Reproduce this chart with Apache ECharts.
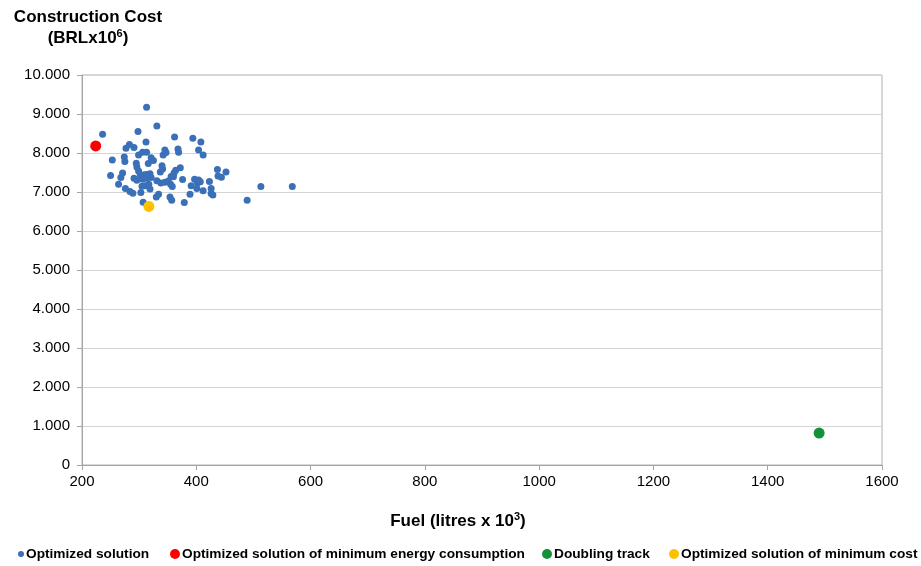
<!DOCTYPE html>
<html>
<head>
<meta charset="utf-8">
<script src="https://cdn.jsdelivr.net/npm/echarts@6/dist/echarts.min.js"></script>
<style>
  html, body { margin: 0; padding: 0; background: #fff; }
  #chart { width: 921px; height: 566px; }
</style>
</head>
<body>
<div id="chart"></div>
<script>
// Fuel consumption (litres x 10^3) and construction cost (BRL x 10^6)
const optimizedFuel = [
  313, 236, 298, 331, 362, 394, 408, 312, 283, 277, 291, 306, 299, 313, 321, 325,
  316, 295, 296, 299, 274, 275, 253, 345, 347, 342, 368, 369, 404, 412, 437, 372,
  340, 341, 337, 361, 364, 271, 268, 250, 291, 296, 302, 309, 314, 319, 321, 313,
  306, 331, 338, 345, 351, 356, 360, 355, 358, 376, 397, 404, 402, 407, 391, 401,
  412, 426, 429, 389, 379, 354, 357, 317, 311, 305, 319, 264, 276, 284, 289, 303,
  334, 330, 307, 438, 452, 444, 423, 513, 568, 426, 489
];
const optimizedCost = [
  9170, 8480, 8550, 8690, 8410, 8380, 8280, 8280, 8220, 8120, 8140, 8020, 7950, 8020, 7880, 7810,
  7730, 7740, 7640, 7540, 7900, 7780, 7820, 8080, 8010, 7950, 8100, 8020, 8080, 7950, 7580, 7620,
  7670, 7590, 7510, 7490, 7560, 7490, 7370, 7420, 7350, 7300, 7440, 7440, 7450, 7470, 7370, 7350,
  7330, 7290, 7230, 7250, 7280, 7400, 7390, 7200, 7140, 7320, 7330, 7310, 7230, 7260, 7160, 7090,
  7030, 7090, 6920, 6940, 6730, 6870, 6790, 7200, 7160, 7150, 7080, 7200, 7090, 7010, 6970, 6990,
  6940, 6870, 6740, 7410, 7510, 7380, 7270, 7140, 7140, 6960, 6790
];
const minEnergyFuel = [224];
const minEnergyCost = [8180];
const doublingFuel = [1490];
const doublingCost = [820];
const minCostFuel = [317];
const minCostCost = [6630];

const seriesNames = [
  'Optimized solution',
  'Optimized solution of minimum energy consumption',
  'Doubling track',
  'Optimized solution of minimum cost'
];
const seriesColors = ['#3A70B8', '#FF0000', '#139138', '#FFC000'];

const pairs = (xs, ys) => xs.map((x, i) => [x, ys[i]]);

const chart = echarts.init(document.getElementById('chart'), null, { renderer: 'canvas' });

const FONT = '"Liberation Sans", Arial, sans-serif';
const axisText = { color: '#000', fontFamily: FONT, fontSize: 15 };
const legendText = { color: '#000', fontFamily: FONT, fontSize: 13.7, fontWeight: 'bold', height: 16, lineHeight: 16 };

function legendFor(name, left, size) {
  return {
    data: [name],
    left: left,
    top: 546,
    icon: 'circle',
    itemWidth: size,
    itemHeight: size,
    itemGap: 0,
    padding: 0,
    textStyle: Object.assign({ padding: [0, 0, 0, -3] }, legendText)
  };
}

chart.setOption({
  animation: false,
  backgroundColor: '#fff',
  grid: {
    left: 82, right: 39, top: 75, bottom: 101,
    show: true, borderColor: '#b0b0b0', borderWidth: 1
  },
  xAxis: {
    type: 'value',
    min: 200, max: 1600, interval: 200,
    axisLine: { show: true, lineStyle: { color: '#a6a6a6' } },
    axisTick: { show: true, length: 5, lineStyle: { color: '#a6a6a6' } },
    axisLabel: Object.assign({ margin: 9, formatter: v => String(v) }, axisText),
    splitLine: { show: false }
  },
  yAxis: {
    type: 'value',
    min: 0, max: 10000, interval: 1000,
    axisLine: { show: true, lineStyle: { color: '#a6a6a6' } },
    axisTick: { show: true, length: 5, lineStyle: { color: '#a6a6a6' } },
    axisLabel: Object.assign({
      margin: 12,
      formatter: v => v === 0 ? '0' : (v / 1000).toFixed(3)
    }, axisText),
    splitLine: { show: true, lineStyle: { color: '#d4d4d4', width: 1 } }
  },
  legend: [
    legendFor(seriesNames[0], 18, 6),
    legendFor(seriesNames[1], 170, 10),
    legendFor(seriesNames[2], 542, 10),
    legendFor(seriesNames[3], 669, 10)
  ],
  graphic: [
    {
      type: 'text', x: 88, y: 17,
      style: { text: 'Construction Cost', fill: '#000', font: 'bold 17px ' + FONT, align: 'center', verticalAlign: 'middle' }
    },
    {
      type: 'text', x: 88, y: 38,
      style: {
        text: '{b|(BRLx10}{s|6}{b|)}',
        align: 'center', verticalAlign: 'middle',
        rich: {
          b: { fill: '#000', font: 'bold 17px ' + FONT },
          s: { fill: '#000', font: 'bold 11px ' + FONT, verticalAlign: 'top', padding: [0, 0, 8, 0] }
        }
      }
    },
    {
      type: 'text', x: 458, y: 521,
      style: {
        text: '{b|Fuel (litres x 10}{s|3}{b|)}',
        align: 'center', verticalAlign: 'middle',
        rich: {
          b: { fill: '#000', font: 'bold 17px ' + FONT },
          s: { fill: '#000', font: 'bold 11px ' + FONT, verticalAlign: 'top', padding: [0, 0, 8, 0] }
        }
      }
    }
  ],
  series: [
    {
      name: seriesNames[0], type: 'scatter', symbol: 'circle', symbolSize: 7,
      itemStyle: { color: seriesColors[0], opacity: 1 },
      data: pairs(optimizedFuel, optimizedCost), z: 2
    },
    {
      name: seriesNames[1], type: 'scatter', symbol: 'circle', symbolSize: 11,
      itemStyle: { color: seriesColors[1], opacity: 1 },
      data: pairs(minEnergyFuel, minEnergyCost), z: 3
    },
    {
      name: seriesNames[2], type: 'scatter', symbol: 'circle', symbolSize: 11,
      itemStyle: { color: seriesColors[2], opacity: 1 },
      data: pairs(doublingFuel, doublingCost), z: 3
    },
    {
      name: seriesNames[3], type: 'scatter', symbol: 'circle', symbolSize: 11,
      itemStyle: { color: seriesColors[3], opacity: 1 },
      data: pairs(minCostFuel, minCostCost), z: 3
    }
  ]
});
</script>
</body>
</html>
